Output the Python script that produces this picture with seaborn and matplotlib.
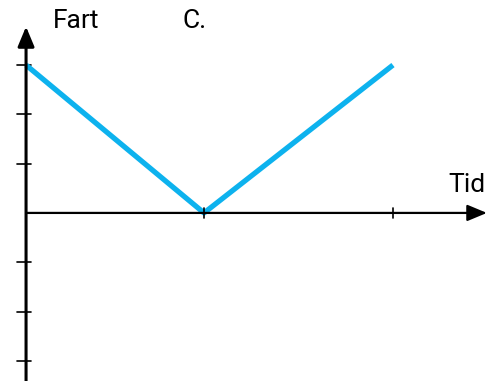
import matplotlib
matplotlib.use("Agg")
import matplotlib.pyplot as plt
import seaborn as sns
import pandas as pd

# values
tid = [0, 0.97, 2]
fart = [3, 0, 3]
y_ticks = [-3, -2, -1, 1, 2, 3]
x_ticks = [0.97, 2]

sns.set_style("white")
plt.rcParams["font.family"] = ["Roboto", "DejaVu Sans"]

fig = plt.figure(figsize=(4.88, 3.81), dpi=100)
ax = fig.add_axes([0, 0, 1, 1])

df = pd.DataFrame({"tid": tid, "fart": fart})
sns.lineplot(data=df, x="tid", y="fart", color="#0DB2EE", linewidth=3.8,
             ax=ax, zorder=3, solid_capstyle="butt")

# limits chosen so the origin sits where it does in the picture
ax.set_xlim(-0.142, 2.518)
ax.set_ylim(-3.41, 4.32)
ax.axis("off")

# axes with arrow heads
ax.annotate("", xy=(2.512, 0), xytext=(0, 0), annotation_clip=False,
            arrowprops=dict(arrowstyle="-|>,head_length=1.2,head_width=0.5",
                            color="black", lw=1.6, shrinkA=0, shrinkB=0))
ax.annotate("", xy=(0, 3.78), xytext=(0, -3.45), annotation_clip=False,
            arrowprops=dict(arrowstyle="-|>,head_length=1.2,head_width=0.5",
                            color="black", lw=2.2, shrinkA=0, shrinkB=0))

# tick marks
for yt in y_ticks:
    ax.plot([-0.05, 0.027], [yt, yt], color="black", lw=1.2, zorder=2)
for xt in x_ticks:
    ax.plot([xt, xt], [-0.1, 0.1], color="black", lw=1.2, zorder=4)

ax.text(0.145, 3.9, "Fart", fontsize=19, ha="left", va="center", color="black")
ax.text(0.855, 3.9, "C.", fontsize=19, ha="left", va="center", color="black")
ax.text(2.3, 0.57, "Tid", fontsize=19, ha="left", va="center", color="black")

fig.savefig("out.png", dpi=100)
